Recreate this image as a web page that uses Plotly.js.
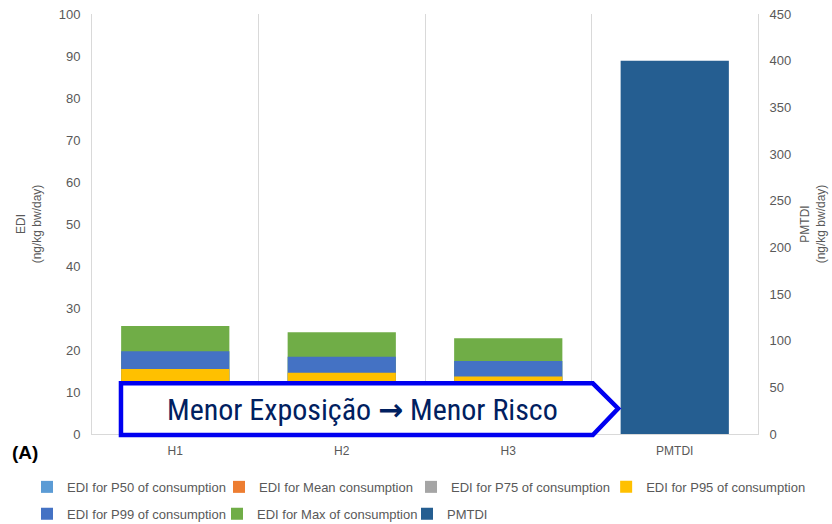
<!DOCTYPE html>
<html>
<head>
<meta charset="utf-8">
<script src="https://cdn.plot.ly/plotly-3.0.1.min.js"></script>
<style>html,body{margin:0;padding:0;background:#fff;}#chart{width:832px;height:524px;}</style>
</head>
<body>
<div id="chart"></div>
<script>
// ---- data ----
const categories = ["H1", "H2", "H3"];
const allCategories = ["H1", "H2", "H3", "PMTDI"];
const seriesNames = [
  "EDI for P50 of consumption",
  "EDI for Mean consumption",
  "EDI for P75 of consumption",
  "EDI for P95 of consumption",
  "EDI for P99 of consumption",
  "EDI for Max of consumption"
];
const ediP50  = [5.9, 5.5, 5.2];
const ediMean = [7.5, 7.0, 6.6];
const ediP75  = [9.8, 9.2, 8.7];
const ediP95  = [15.5, 14.6, 13.7];
const ediP99  = [19.7, 18.4, 17.4];
const ediMax  = [25.7, 24.2, 22.8];
const pmtdiCategory = ["PMTDI"];
const pmtdiValue = [400];
const seriesColors = ["#5B9BD5", "#ED7D31", "#A5A5A5", "#FFC000", "#4472C4", "#70AD47"];
const pmtdiColor = "#255E91";

const seriesValues = [ediP50, ediMean, ediP75, ediP95, ediP99, ediMax];
// legend placement: row 1 uses one legend per entry, row 2 shares one legend
const legendIds = ["legend", "legend3", "legend4", "legend5", "legend2", "legend2"];
const traces = [];
// draw largest first so smaller values overlay on top
for (let i = seriesValues.length - 1; i >= 0; i--) {
  traces.push({
    type: "bar", name: seriesNames[i], x: categories, y: seriesValues[i],
    marker: {color: seriesColors[i]}, legendrank: i + 1, legend: legendIds[i]
  });
}
traces.push({
  type: "bar", name: "PMTDI", x: pmtdiCategory, y: pmtdiValue, yaxis: "y2",
  marker: {color: pmtdiColor}, legendrank: 7, legend: "legend2"
});

const gray = "#595959";
const lineGray = "#D9D9D9";
const fontFam = "Liberation Sans, Arial, sans-serif";
const legendCommon = {
  orientation: "h", xanchor: "left", yanchor: "middle",
  bgcolor: "rgba(0,0,0,0)",
  font: {size: 13, color: gray}, itemwidth: 30, traceorder: "normal"
};
const row1Y = -0.126, row2Y = -0.190;

const layout = {
  width: 832, height: 524,
  margin: {l: 92, r: 74, t: 14, b: 90, autoexpand: false},
  paper_bgcolor: "#fff", plot_bgcolor: "#fff",
  barmode: "overlay", bargap: 0.35,
  font: {family: fontFam, color: gray, size: 12},
  showlegend: true,
  legend:  Object.assign({}, legendCommon, {x: -0.0976, y: row1Y}),
  legend3: Object.assign({}, legendCommon, {x: 0.1907, y: row1Y}),
  legend4: Object.assign({}, legendCommon, {x: 0.4790, y: row1Y}),
  legend5: Object.assign({}, legendCommon, {x: 0.7720, y: row1Y}),
  legend2: Object.assign({}, legendCommon, {x: -0.0976, y: row2Y, entrywidth: 145}),
  xaxis: {
    type: "category", categoryorder: "array", categoryarray: allCategories,
    range: [-0.5, 3.5],
    tickson: "boundaries", showgrid: true, gridcolor: lineGray, gridwidth: 1,
    showline: true, linecolor: lineGray, linewidth: 1, ticks: "",
    ticklabelstandoff: 6,
    tickfont: {size: 12, color: gray}
  },
  yaxis: {
    range: [0, 100], dtick: 10, showgrid: false, zeroline: false,
    showline: true, linecolor: lineGray, ticks: "", ticklabelstandoff: 8,
    tickfont: {size: 13, color: gray},
    title: {text: "EDI<br>(ng/kg bw/day)", font: {size: 12, color: gray}, standoff: 14}
  },
  yaxis2: {
    overlaying: "y", side: "right", range: [0, 450], dtick: 50,
    showgrid: false, zeroline: false, showline: true, linecolor: lineGray, ticks: "",
    ticklabelstandoff: 8,
    tickfont: {size: 13, color: gray},
    title: {text: "PMTDI<br>(ng/kg bw/day)", font: {size: 12, color: gray}, standoff: 10}
  },
  shapes: [{
    type: "path", xref: "paper", yref: "paper", layer: "above",
    path: "M 0.0435 0.1207 L 0.752 0.1207 L 0.790 0.0607 L 0.752 -0.0024 L 0.0435 -0.0024 Z",
    line: {color: "#0000F0", width: 4.5}, fillcolor: "#FFFFFF"
  }],
  annotations: [
    {text: "Menor Exposição <span style=\"font-family:'DejaVu Sans';font-weight:bold\">\u2192</span> Menor Risco",
     xref: "paper", yref: "paper",
     x: 0.406, y: 0.0595, xanchor: "center", yanchor: "middle", showarrow: false,
     font: {family: "Liberation Sans Narrow, Arial Narrow, Roboto Condensed, DejaVu Sans Condensed, " + fontFam, size: 30, color: "#002060"}},
    {text: "<b>(A)</b>", xref: "paper", yref: "paper", x: -0.1006, y: -0.043,
     xanchor: "center", yanchor: "middle", showarrow: false,
     font: {family: fontFam, size: 19, color: "#000"}}
  ]
};

Plotly.newPlot("chart", traces, layout, {displayModeBar: false, staticPlot: true});
</script>
</body>
</html>
